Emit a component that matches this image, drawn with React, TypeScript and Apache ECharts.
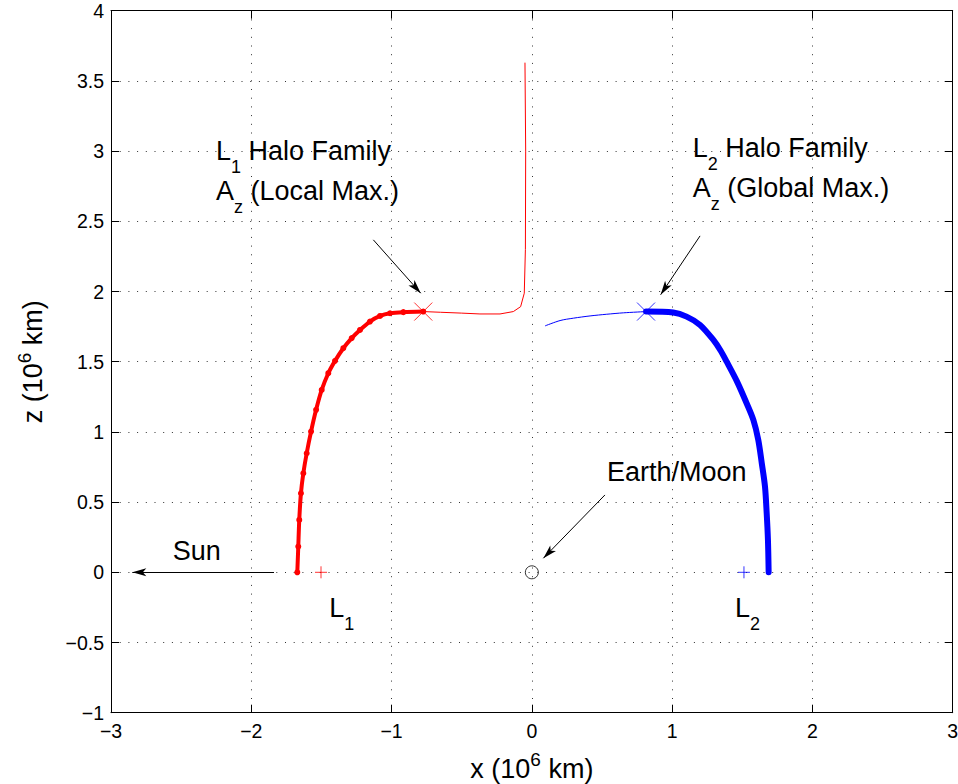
import React, { useEffect, useRef } from 'react';
import * as echarts from 'echarts';

const FONT = '"Liberation Sans", Arial, Helvetica, sans-serif';

// Axis ranges / ticks
const xRange = [-3, 3];
const zRange = [-1, 4];
const xStep = 1;
const zStep = 0.5;

// L1 halo family (dotted, thick part): x, z in 10^6 km
const l1FamilyDotted: [number, number][] = [
  [-1.672, 0.0], [-1.665, 0.183], [-1.658, 0.373], [-1.646, 0.563], [-1.629, 0.705],
  [-1.605, 0.848], [-1.574, 1.002], [-1.538, 1.157], [-1.498, 1.299], [-1.451, 1.418],
  [-1.403, 1.506], [-1.344, 1.596], [-1.284, 1.668], [-1.225, 1.726], [-1.154, 1.786],
  [-1.082, 1.826], [-1.011, 1.845], [-0.916, 1.853], [-0.774, 1.857],
];

// L1 halo family (thin continuation)
const l1FamilyThin: [number, number][] = [
  [-0.774, 1.857], [-0.65, 1.852], [-0.5, 1.846], [-0.37, 1.84], [-0.227, 1.84],
  [-0.132, 1.857], [-0.08, 1.892], [-0.054, 1.988], [-0.046, 2.3], [-0.044, 3.0],
  [-0.049, 3.63],
];

// L2 halo family (thin part)
const l2FamilyThin: [number, number][] = [
  [0.094, 1.755], [0.201, 1.793], [0.296, 1.81], [0.415, 1.826], [0.534, 1.838],
  [0.652, 1.848], [0.814, 1.857],
];

// L2 halo family (thick part)
const l2FamilyThick: [number, number][] = [
  [0.814, 1.857], [1.008, 1.85], [1.103, 1.821], [1.199, 1.762], [1.294, 1.655],
  [1.345, 1.58], [1.389, 1.5], [1.462, 1.36], [1.531, 1.204], [1.579, 1.085],
  [1.614, 0.943], [1.639, 0.777], [1.662, 0.61], [1.674, 0.421], [1.683, 0.231],
  [1.688, 0.0],
];

const azMaxL1: [number, number][] = [[-0.774, 1.857]];
const azMaxL2: [number, number][] = [[0.814, 1.857]];
const l1Point: [number, number][] = [[-1.503, 0]];
const l2Point: [number, number][] = [[1.512, 0]];
const earthMoon: [number, number][] = [[0, 0]];

// Annotation arrows (from -> to), data coordinates
const arrowFrom: [number, number][] = [
  [-1.838, 0], [0.521, 0.551], [-1.13, 2.368], [1.199, 2.396],
];
const arrowTo: [number, number][] = [
  [-2.848, 0], [0.082, 0.1], [-0.792, 1.988], [0.918, 1.977],
];

// Annotation texts and their anchors (data coordinates)
const annotationTexts = [
  '{m|L}{s|1}{m| Halo Family}\n{m|A}{s|z}{m| (Local Max.)}',
  '{m|L}{s|2}{m| Halo Family}\n{m|A}{s|z}{m| (Global Max.)}',
  '{m|Earth/Moon}',
  '{m|Sun}',
  '{m|L}{s|1}',
  '{m|L}{s|2}',
];
const annotationAnchors: [number, number][] = [
  [-2.252, 3.144], [1.147, 3.165], [0.536, 0.715], [-2.56, 0.155], [-1.444, -0.254], [1.448, -0.254],
];
const annotationTop = [true, true, false, false, false, false];

const minusFmt = (v: number) => {
  const s = String(Math.abs(v));
  return v < 0 ? '\u2212' + s : s;
};

const annRich = {
  m: { fontSize: 27, fontFamily: FONT, lineHeight: 40, fill: '#000' },
  s: { fontSize: 18, fontFamily: FONT, lineHeight: 40, padding: [32, 0, 0, 0], fill: '#000' },
};

const nameRich = {
  m: { fontSize: 27, fontFamily: FONT, lineHeight: 32, color: '#000' },
  p: { fontSize: 19, fontFamily: FONT, lineHeight: 32, padding: [0, 0, 18, 0], color: '#000' },
};

export default function App() {
  const ref = useRef<HTMLDivElement>(null);

  useEffect(() => {
    if (!ref.current) return;
    const chart = echarts.init(ref.current, undefined, { renderer: 'svg' });

    const gridLine = { show: true, lineStyle: { color: '#333', width: 1, type: [1, 7.7] as any } };
    const axisLine = { show: true, onZero: false, lineStyle: { color: '#000', width: 1 } };
    const tick = { show: true, inside: true, length: 8, lineStyle: { color: '#000', width: 1 } };

    const xCommon = {
      type: 'value' as const,
      min: xRange[0],
      max: xRange[1],
      interval: xStep,
      axisLine,
      axisTick: tick,
    };
    const yCommon = {
      type: 'value' as const,
      min: zRange[0],
      max: zRange[1],
      interval: zStep,
      axisLine,
      axisTick: tick,
    };

    const option: any = {
      animation: false,
      backgroundColor: '#fff',
      grid: {
        left: 111,
        right: 5.3,
        top: 10.7,
        bottom: 71.3,
        containLabel: false,
        outerBoundsMode: 'none',
      },
      xAxis: [
        {
          ...xCommon,
          position: 'bottom',
          splitLine: gridLine,
          axisLabel: {
            show: true,
            color: '#000',
            fontSize: 19.5,
            fontFamily: FONT,
            margin: 8,
            formatter: minusFmt,
            showMinLabel: true,
            showMaxLabel: true,
          },
          name: '{m|x (10}{p|6}{m| km)}',
          nameLocation: 'middle',
          nameGap: 40,
          nameTextStyle: { rich: nameRich },
        },
        {
          ...xCommon,
          position: 'top',
          splitLine: { show: false },
          axisLabel: { show: false },
        },
      ],
      yAxis: [
        {
          ...yCommon,
          position: 'left',
          splitLine: gridLine,
          axisLabel: {
            show: true,
            color: '#000',
            fontSize: 19.5,
            fontFamily: FONT,
            margin: 7,
            formatter: minusFmt,
            showMinLabel: true,
            showMaxLabel: true,
          },
          name: '{m|z (10}{p|6}{m| km)}',
          nameLocation: 'middle',
          nameGap: 62,
          nameRotate: 90,
          nameTextStyle: { rich: nameRich },
        },
        {
          ...yCommon,
          position: 'right',
          splitLine: { show: false },
          axisLabel: { show: false },
        },
      ],
      series: [
        {
          type: 'line',
          name: 'L1 family',
          data: l1FamilyDotted,
          xAxisIndex: 0,
          yAxisIndex: 0,
          showSymbol: true,
          symbol: 'circle',
          symbolSize: 6,
          smooth: 0.3,
          itemStyle: { color: '#ff0000' },
          lineStyle: { color: '#ff0000', width: 4, cap: 'round', join: 'round' },
          silent: true,
          z: 3,
        },
        {
          type: 'line',
          name: 'L1 family thin',
          data: l1FamilyThin,
          showSymbol: false,
          symbol: 'none',
          lineStyle: { color: '#ff0000', width: 1 },
          silent: true,
          z: 3,
        },
        {
          type: 'line',
          name: 'L2 family thin',
          data: l2FamilyThin,
          showSymbol: false,
          symbol: 'none',
          smooth: 0.3,
          lineStyle: { color: '#0000ff', width: 1 },
          silent: true,
          z: 3,
        },
        {
          type: 'line',
          name: 'L2 family',
          data: l2FamilyThick,
          showSymbol: false,
          symbol: 'none',
          smooth: 0.3,
          lineStyle: { color: '#0000ff', width: 6, cap: 'round', join: 'round' },
          silent: true,
          z: 3,
        },
        {
          type: 'scatter',
          name: 'L1 Az max',
          data: azMaxL1,
          symbol: 'path://M0,0L10,10M10,0L0,10',
          symbolSize: 18,
          itemStyle: { color: 'transparent', borderColor: '#ff0000', borderWidth: 1 },
          silent: true,
          z: 4,
        },
        {
          type: 'scatter',
          name: 'L2 Az max',
          data: azMaxL2,
          symbol: 'path://M0,0L10,10M10,0L0,10',
          symbolSize: 18,
          itemStyle: { color: 'transparent', borderColor: '#0000ff', borderWidth: 1 },
          silent: true,
          z: 4,
        },
        {
          type: 'scatter',
          name: 'L1',
          data: l1Point,
          symbol: 'path://M5,0L5,10M0,5L10,5',
          symbolSize: 12,
          itemStyle: { color: 'transparent', borderColor: '#ff0000', borderWidth: 1 },
          silent: true,
          z: 4,
        },
        {
          type: 'scatter',
          name: 'L2',
          data: l2Point,
          symbol: 'path://M5,0L5,10M0,5L10,5',
          symbolSize: 12,
          itemStyle: { color: 'transparent', borderColor: '#0000ff', borderWidth: 1 },
          silent: true,
          z: 4,
        },
        {
          type: 'scatter',
          name: 'Earth/Moon',
          data: earthMoon,
          symbol: 'circle',
          symbolSize: 13,
          itemStyle: { color: 'transparent', borderColor: '#000', borderWidth: 1 },
          silent: true,
          z: 4,
          markLine: {
            silent: true,
            animation: false,
            symbol: ['none', 'arrow'],
            symbolSize: [6, 14],
            label: { show: false },
            emphasis: { disabled: true },
            lineStyle: { color: '#000', width: 1, type: 'solid' },
            itemStyle: { color: '#000' },
            data: arrowFrom.map((f, i) => [{ coord: f }, { coord: arrowTo[i] }]),
          },
        },
      ],
    };

    chart.setOption(option);

    const graphics = annotationTexts.map((t, i) => {
      const p = chart.convertToPixel({ gridIndex: 0 }, annotationAnchors[i]) as number[];
      const top = annotationTop[i];
      return {
        type: 'text',
        x: p[0],
        y: p[1],
        silent: true,
        z: 10,
        style: {
          text: t,
          rich: annRich,
          fontSize: 27,
          fontFamily: FONT,
          fill: '#000',
          align: 'left',
          verticalAlign: top ? 'top' : 'middle',
          textAlign: 'left',
          textVerticalAlign: top ? 'top' : 'middle',
        },
      };
    });
    chart.setOption({ graphic: graphics });

    return () => {
      chart.dispose();
    };
  }, []);

  return (
    <div
      ref={ref}
      style={{ position: 'fixed', left: 0, top: 0, width: 958, height: 784, background: '#fff' }}
    />
  );
}
